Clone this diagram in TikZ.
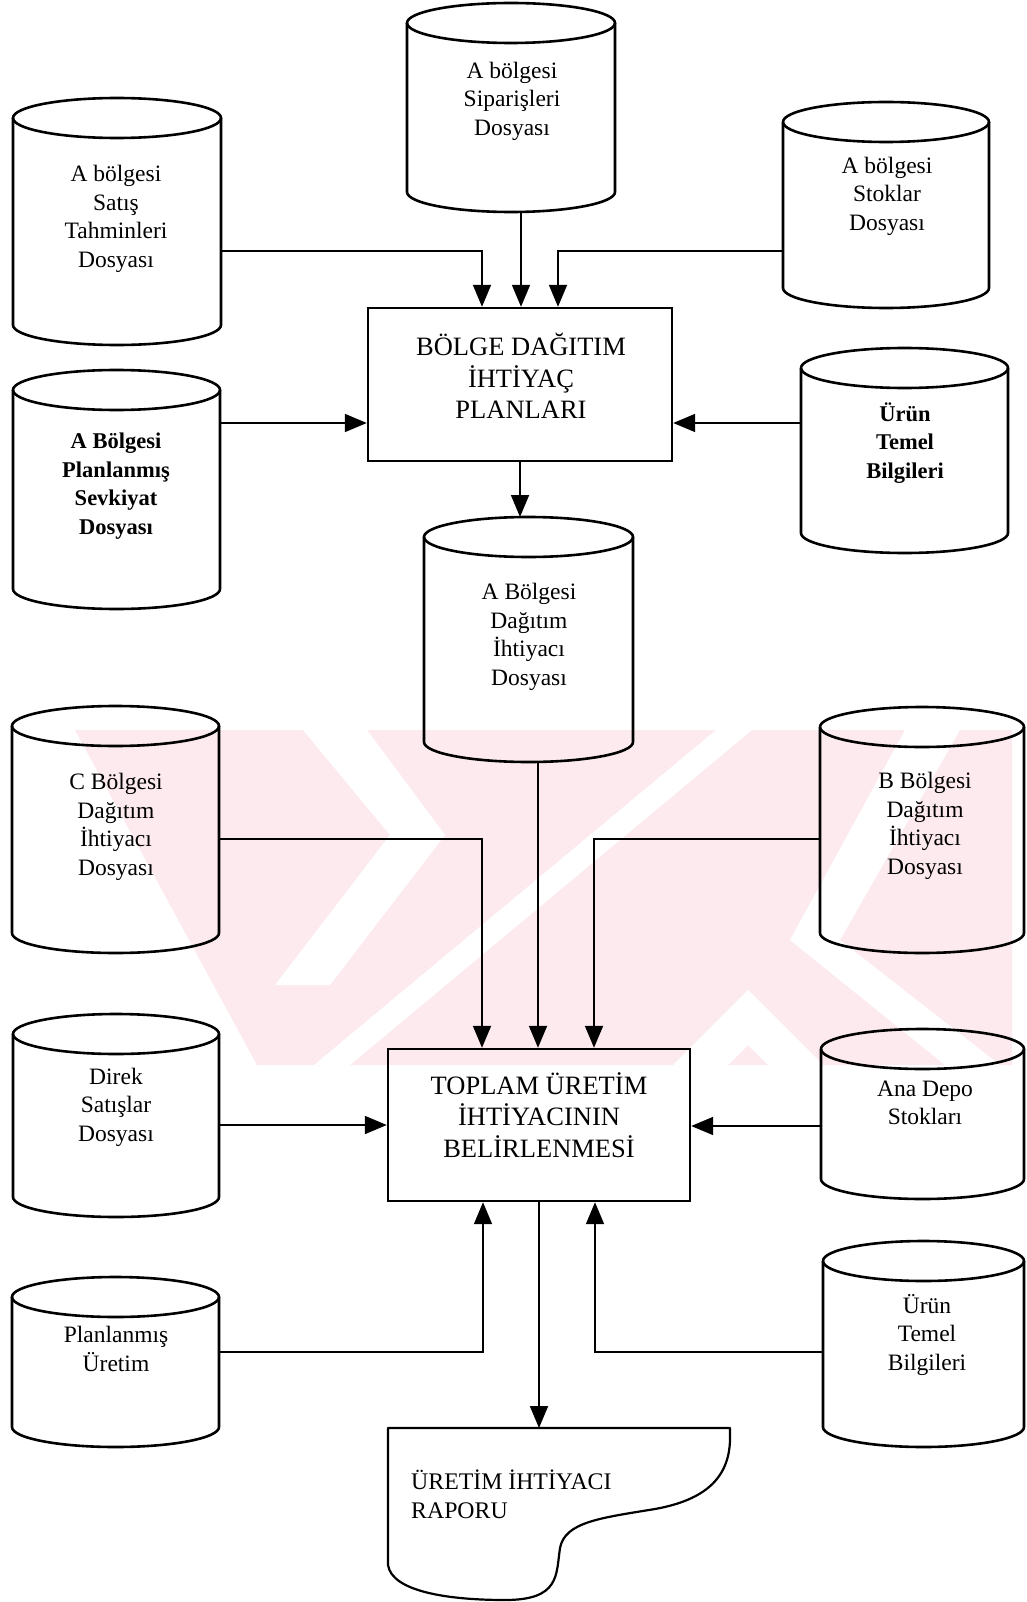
\documentclass[tikz,border=0pt]{standalone}
\usepackage{fontspec}
\setmainfont{Liberation Serif}
\usetikzlibrary{arrows.meta}

\definecolor{wmpink}{RGB}{253,234,238}

\tikzset{
  drumline/.style={line width=2.6pt, line join=round},
  procbox/.style={draw, line width=2.4pt, inner sep=0pt},
  repline/.style={line width=2.2pt, line join=round},
  conn/.style={line width=1.8pt, -{Triangle[length=22pt,width=18pt]}},
  drumtext/.style={font=\fontsize{23.5}{28.5}\selectfont, align=center, inner sep=0pt},
  drumbold/.style={font=\fontsize{22.5}{28.5}\selectfont\bfseries, align=center, inner sep=0pt},
  boxtext/.style={font=\fontsize{26.5}{31.5}\selectfont, align=center, inner sep=0pt},
  reptext/.style={font=\fontsize{23.8}{29}\selectfont, align=left, inner sep=0pt, anchor=west},
}

% data store: name, left, top, right, bottom (y grows downwards)
\newcommand\drum[5]{%
  \draw[drumline] (#2,#3+20) -- (#2,#5-20)
     arc[start angle=180, end angle=0, x radius={(#4-#2)/2}, y radius=20]
     -- (#4,#3+20);
  \draw[drumline] ({(#2+#4)/2},#3+20) ellipse[x radius={(#4-#2)/2}, y radius=20];
  \node[anchor=north west, inner sep=0pt,
        minimum width={(#4-#2)*1pt}, minimum height={(#5-#3)*1pt}] (#1) at (#2,#3) {};
}

\begin{document}
\begin{tikzpicture}[x=1pt, y=-1pt]
\fill[white] (0,0) rectangle (1026,1602);
\useasboundingbox (0,0) rectangle (1026,1602);

% faint background emblem
\fill[wmpink] (75,730) -- (1012,730) -- (1012,1065) -- (257,1065) -- cycle;
\fill[white] (303,730) -- (367,730) -- (445,835) -- (330,985) -- (275,985) -- (390,835) -- cycle;
\fill[white] (716,730) -- (752,730) -- (350,1065) -- (314,1065) -- cycle;
\fill[white] (905,730) -- (960,730) -- (840,940) -- (1000,1065) -- (945,1065) -- (790,940) -- cycle;
\fill[white] (748,990) -- (823,1065) -- (768,1065) -- (748,1045) -- (728,1065) -- (673,1065) -- cycle;

% data stores
\drum{sip}{407}{3}{615}{212}
\drum{sat}{13}{98}{221}{345}
\drum{stok}{783}{102}{989}{308}
\drum{sevk}{13}{370}{220}{609}
\drum{urunA}{801}{348}{1008}{553}
\drum{adag}{424}{517}{633}{762}
\drum{cbol}{12}{706}{219}{953}
\drum{bbol}{820}{707}{1024}{953}
\drum{direk}{13}{1014}{219}{1217}
\drum{ana}{821}{1029}{1024}{1199}
\drum{planu}{12}{1277}{219}{1447}
\drum{urunB}{823}{1241}{1024}{1447}

% processes
\node[procbox, minimum width=304pt, minimum height=153pt] (bolge) at (520,384.5) {};
\node[procbox, minimum width=302pt, minimum height=152pt] (toplam) at (539,1125) {};

% printed report
\draw[repline] (388,1428) -- (730,1428) -- (730,1440)
  .. controls (729,1478) and (705,1500) .. (655,1509)
  .. controls (600,1518) and (565,1522) .. (560,1548)
  .. controls (556,1575) and (560,1600) .. (505,1600)
  .. controls (450,1600) and (392,1592) .. (388,1565)
  -- cycle;
\node[anchor=north west, inner sep=0pt, minimum width=342pt, minimum height=172pt] (rapor) at (388,1428) {};

% labels
\node[drumtext] (sipT) at (512,101) {A bölgesi\\Siparişleri\\Dosyası};
\node[drumtext] (satT) at (116,219) {A bölgesi\\Satış\\Tahminleri\\Dosyası};
\node[drumtext] (stokT) at (887,196) {A bölgesi\\Stoklar\\Dosyası};
\node[boxtext] (bolgeT) at (521,376) {BÖLGE DAĞITIM\\İHTİYAÇ\\PLANLARI};
\node[drumbold] (sevkT) at (116,486) {A Bölgesi\\Planlanmış\\Sevkiyat\\Dosyası};
\node[drumbold] (urunAT) at (905,443) {Ürün\\Temel\\Bilgileri};
\node[drumtext] (adagT) at (529,637) {A Bölgesi\\Dağıtım\\İhtiyacı\\Dosyası};
\node[drumtext] (cbolT) at (116,827) {C Bölgesi\\Dağıtım\\İhtiyacı\\Dosyası};
\node[drumtext] (bbolT) at (925,826) {B Bölgesi\\Dağıtım\\İhtiyacı\\Dosyası};
\node[drumtext] (direkT) at (116,1107) {Direk\\Satışlar\\Dosyası};
\node[boxtext] (toplamT) at (539,1115) {TOPLAM ÜRETİM\\İHTİYACININ\\BELİRLENMESİ};
\node[drumtext] (anaT) at (925,1103) {Ana Depo\\Stokları};
\node[drumtext] (planuT) at (116,1349) {Planlanmış\\Üretim};
\node[drumtext] (urunBT) at (927,1335) {Ürün\\Temel\\Bilgileri};
\node[reptext] (raporT) at (411,1494) {ÜRETİM İHTİYACI\\RAPORU};

% flows into the regional plan
\draw[conn] (sat.east |- 0,251) -| (bolge.north -| 482,0);
\draw[conn] (sip.south -| 521,0) -- (bolge.north -| 521,0);
\draw[conn] (stok.west |- 0,251) -| (bolge.north -| 558,0);
\draw[conn] (sevk.east |- 0,423) -- (bolge.west |- 0,423);
\draw[conn] (urunA.west |- 0,423) -- (bolge.east |- 0,423);
\draw[conn] (bolge.south -| 520,0) -- (adag.north -| 520,0);

% flows into the total requirement
\draw[conn] (adag.south -| 538,0) -- (toplam.north -| 538,0);
\draw[conn] (cbol.east |- 0,839) -| (toplam.north -| 482,0);
\draw[conn] (bbol.west |- 0,839) -| (toplam.north -| 594,0);
\draw[conn] (direk.east |- 0,1125) -- (toplam.west |- 0,1125);
\draw[conn] (ana.west |- 0,1126) -- (toplam.east |- 0,1126);
\draw[conn] (planu.east |- 0,1352) -| (toplam.south -| 483,0);
\draw[conn] (urunB.west |- 0,1352) -| (toplam.south -| 595,0);
\draw[conn] (toplam.south) -- (rapor.north -| toplam.south);
\end{tikzpicture}
\end{document}
